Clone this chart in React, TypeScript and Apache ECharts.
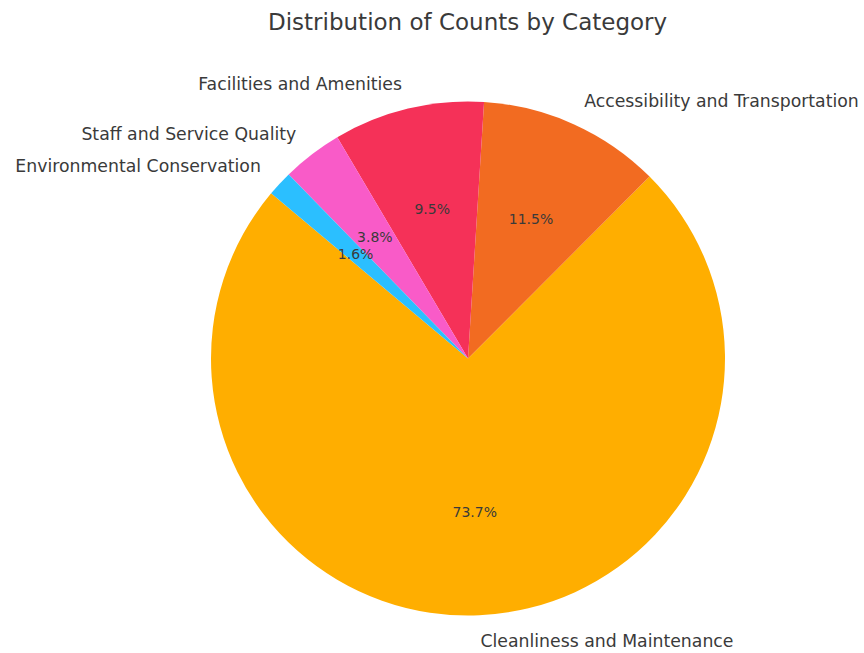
import React, { useEffect, useRef } from "react";
import * as echarts from "echarts";

const categories = [
  "Cleanliness and Maintenance",
  "Accessibility and Transportation",
  "Facilities and Amenities",
  "Staff and Service Quality",
  "Environmental Conservation",
];
const percents = [73.7, 11.5, 9.5, 3.8, 1.6];
const colors = ["#ffae00", "#f26b21", "#f53158", "#f95bc8", "#2bbfff"];
const titleText = "Distribution of Counts by Category";

const FONT = "DejaVu Sans";
const R = 257;
const CENTER = [468, 358.5];

export default function App() {
  const ref = useRef<HTMLDivElement>(null);
  useEffect(() => {
    if (!ref.current) return;
    const chart = echarts.init(ref.current, null, { renderer: "svg" });
    const data = categories.map((name, i) => ({
      name,
      value: percents[i],
      itemStyle: { color: colors[i] },
    }));
    chart.setOption({
      animation: false,
      backgroundColor: "#ffffff",
      title: {
        text: titleText,
        left: 268,
        top: 10,
        padding: 0,
        textStyle: { fontFamily: FONT, fontSize: 23, fontWeight: "normal", color: "#3a3a3a" },
      },
      series: [
        {
          type: "pie",
          center: [CENTER[0], CENTER[1]],
          radius: [0, R],
          startAngle: 140,
          clockwise: false,
          avoidLabelOverlap: false,
          silent: true,
          data,
          label: {
            show: true,
            position: "outside",
            formatter: "{b}",
            fontFamily: FONT,
            fontSize: 17.3,
            color: "#3a3a3a",
            distanceToLabelLine: 0,
            padding: [3, 0, 0, 0],
          },
          labelLine: { show: false, length: R * 0.1, length2: 0 },
        },
        {
          type: "pie",
          center: [CENTER[0], CENTER[1]],
          radius: [R * 0.17, R],
          startAngle: 140,
          clockwise: false,
          avoidLabelOverlap: false,
          silent: true,
          data: data.map((d) => ({ ...d, itemStyle: { color: "rgba(0,0,0,0)" } })),
          label: {
            show: true,
            position: "inside",
            formatter: (p: any) => p.value.toFixed(1) + "%",
            fontFamily: FONT,
            fontSize: 14,
            color: "#3a3a3a",
            padding: [2, 0, 0, 0],
          },
          labelLine: { show: false },
        },
      ],
    });
    return () => chart.dispose();
  }, []);
  return (
    <div
      ref={ref}
      style={{ position: "fixed", left: 0, top: 0, width: 864, height: 653 }}
    />
  );
}
